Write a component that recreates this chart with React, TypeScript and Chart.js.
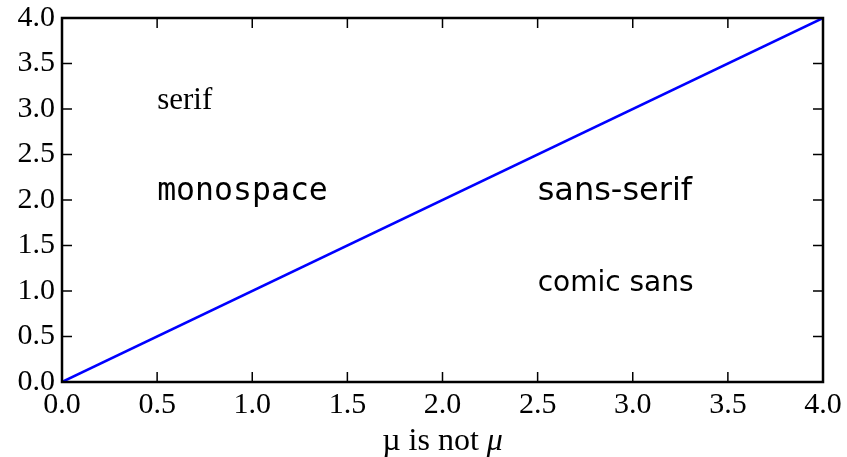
import React, { useEffect, useRef } from "react";
import { Chart, registerables } from "chart.js";

Chart.register(...registerables);

const xValues = [0, 4];
const yValues = [0, 4];
const tickValues = [0, 0.5, 1, 1.5, 2, 2.5, 3, 3.5, 4];
const annotations = [
  { text: "serif", x: 0.5, y: 3.0, font: "31px 'Liberation Serif', serif" },
  { text: "monospace", x: 0.5, y: 2.0, font: "31.5px 'DejaVu Sans Mono', monospace" },
  { text: "sans-serif", x: 2.5, y: 2.0, font: "32px 'DejaVu Sans', sans-serif" },
  { text: "comic sans", x: 2.5, y: 1.0, font: "28px 'Comic Sans MS', 'DejaVu Sans', sans-serif" },
];
const xTitleUpright = "µ is not ";
const xTitleItalic = "μ";

const framePlugin = {
  id: "frame",
  afterDraw(chart: any) {
    const { ctx, chartArea, scales } = chart;
    const { left, right, top, bottom } = chartArea;
    ctx.save();
    ctx.strokeStyle = "#000";
    ctx.lineWidth = 1.5;
    const tl = 10;
    ctx.beginPath();
    for (const v of tickValues) {
      const px = scales.x.getPixelForValue(v);
      ctx.moveTo(px, bottom);
      ctx.lineTo(px, bottom - tl);
      ctx.moveTo(px, top);
      ctx.lineTo(px, top + tl);
      const py = scales.y.getPixelForValue(v);
      ctx.moveTo(left, py);
      ctx.lineTo(left + tl, py);
      ctx.moveTo(right, py);
      ctx.lineTo(right - tl, py);
    }
    ctx.stroke();
    ctx.lineWidth = 2.5;
    ctx.strokeRect(left, top, right - left, bottom - top);

    ctx.fillStyle = "#000";
    ctx.textAlign = "left";
    ctx.textBaseline = "alphabetic";
    for (const a of annotations) {
      ctx.font = a.font;
      ctx.fillText(a.text, scales.x.getPixelForValue(a.x), scales.y.getPixelForValue(a.y));
    }

    // x axis title with italic math mu
    const fUp = "32px 'Liberation Serif', serif";
    const fIt = "italic 32px 'Liberation Serif', serif";
    ctx.font = fUp;
    const w1 = ctx.measureText(xTitleUpright).width;
    ctx.font = fIt;
    const w2 = ctx.measureText(xTitleItalic).width;
    const cx = (left + right) / 2;
    const start = cx - (w1 + w2) / 2;
    const by = 450;
    ctx.font = fUp;
    ctx.fillText(xTitleUpright, start, by);
    ctx.font = fIt;
    ctx.fillText(xTitleItalic, start + w1, by);
    ctx.restore();
  },
};

export default function App() {
  const ref = useRef<HTMLCanvasElement>(null);
  useEffect(() => {
    document.body.style.margin = "0";
    const tickFont = { family: "'Liberation Serif', serif", size: 30 };
    const chart = new Chart(ref.current!, {
      type: "line",
      data: {
        datasets: [
          {
            data: xValues.map((x, i) => ({ x, y: yValues[i] })),
            borderColor: "#0000ff",
            borderWidth: 2.5,
            pointRadius: 0,
            fill: false,
            tension: 0,
          },
        ],
      },
      options: {
        animation: false,
        responsive: false,
        layout: { padding: { top: 18, right: 24, left: 0, bottom: 0 } },
        plugins: { legend: { display: false }, tooltip: { enabled: false } },
        scales: {
          x: {
            type: "linear",
            min: 0,
            max: 4,
            afterBuildTicks: (s: any) => {
              s.ticks = tickValues.map((v) => ({ value: v }));
            },
            ticks: {
              color: "#000",
              font: tickFont,
              padding: 5,
              maxRotation: 0,
              callback: (v: any) => Number(v).toFixed(1),
            },
            grid: { display: false, drawTicks: false },
            border: { display: false },
            afterFit: (s: any) => {
              s.height = 75;
              s.paddingLeft = 0;
              s.paddingRight = 0;
            },
          },
          y: {
            type: "linear",
            min: 0,
            max: 4,
            afterBuildTicks: (s: any) => {
              s.ticks = tickValues.map((v) => ({ value: v }));
            },
            ticks: {
              color: "#000",
              font: tickFont,
              padding: 7,
              callback: (v: any) => Number(v).toFixed(1),
            },
            grid: { display: false, drawTicks: false },
            border: { display: false },
            afterFit: (s: any) => {
              s.width = 62;
              s.paddingTop = 0;
              s.paddingBottom = 0;
            },
          },
        },
      },
      plugins: [framePlugin],
    });
    return () => chart.destroy();
  }, []);
  return (
    <div style={{ position: "absolute", left: 0, top: 0, width: 847, height: 457 }}>
      <canvas ref={ref} width={847} height={457} style={{ display: "block" }} />
    </div>
  );
}
